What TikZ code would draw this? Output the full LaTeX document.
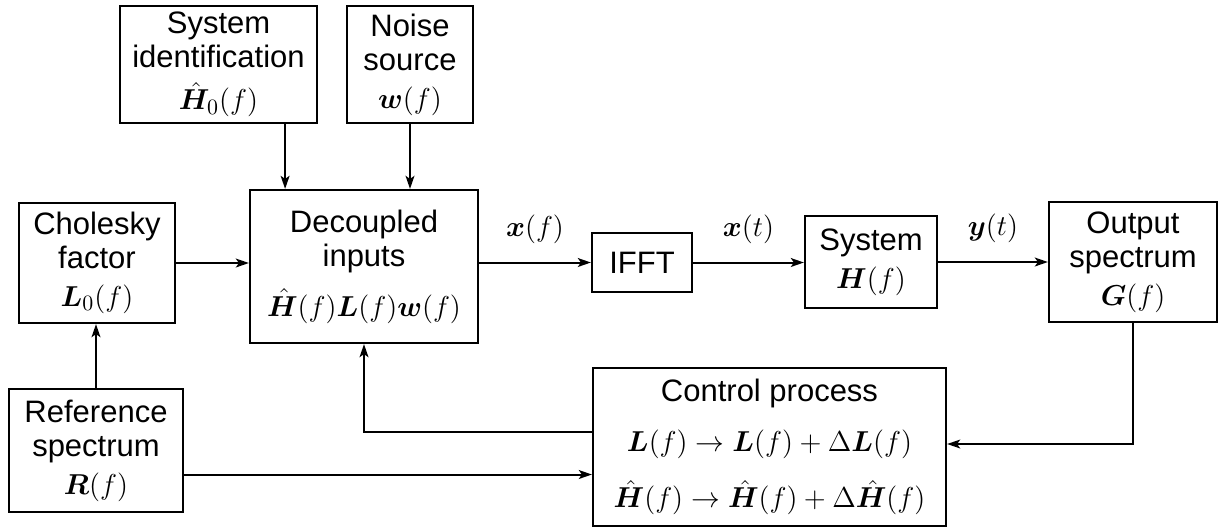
\documentclass[tikz,border=0pt]{standalone}
\usepackage{fontspec}
\setmainfont{Liberation Sans}
\usepackage{amsmath}
\usepackage{bm}
\usetikzlibrary{arrows.meta}

% formulas at the body size
\newcommand{\fml}[1]{{\fontsize{15.3pt}{17pt}\selectfont$#1$}}

\tikzset{
  blk/.style={draw, line width=1.1pt, inner sep=0pt, align=center,
    font=\fontsize{15.5pt}{17pt}\selectfont},
  arr/.style={line width=1pt, -{Stealth[length=6.5pt,width=4.4pt,inset=1.5pt]}},
  lbl/.style={font=\fontsize{15pt}{17pt}\selectfont, above, inner sep=0pt}
}

\begin{document}
\begin{tikzpicture}[x=0.5pt, y=-0.5pt]
  \useasboundingbox (0,0) rectangle (1219,526);

  % blocks
  \node[blk, minimum width=98.5pt, minimum height=58.5pt] (sysid) at (218.5,64.5)
    {System\\identification\\[4pt] \fml{\bm{\hat{H}}_0(f)}};
  \node[blk, minimum width=63pt, minimum height=58.5pt] (noise) at (410,64.5)
    {Noise\\source\\[2pt] \fml{\bm{w}(f)}};
  \node[blk, minimum width=78pt, minimum height=60pt] (chol) at (97,263)
    {Cholesky\\factor\\[2pt] \fml{\bm{L}_0(f)}};
  \node[blk, minimum width=114pt, minimum height=76.5pt] (dec) at (364,266.5)
    {Decoupled\\inputs\\[8pt] \fml{\bm{\hat{H}}(f)\bm{L}(f)\bm{w}(f)}};
  \node[blk, minimum width=50pt, minimum height=29.5pt] (ifft) at (642,262.5) {IFFT};
  \node[blk, minimum width=66pt, minimum height=46pt] (sys) at (871,262)
    {System\\[2pt] \fml{\bm{H}(f)}};
  \node[blk, minimum width=84pt, minimum height=60pt] (out) at (1133,262)
    {Output\\spectrum\\[2pt] \fml{\bm{G}(f)}};
  \node[blk, minimum width=176.5pt, minimum height=79pt] (ctl) at (769.5,447)
    {Control process\\[8pt]
     \fml{\bm{L}(f)\rightarrow\bm{L}(f)+\Delta\bm{L}(f)}\\[10pt]
     \fml{\bm{\hat{H}}(f)\rightarrow\bm{\hat{H}}(f)+\Delta\bm{\hat{H}}(f)}};
  \node[blk, minimum width=87pt, minimum height=61.5pt] (ref) at (96,450.5)
    {Reference\\spectrum\\[2pt] \fml{\bm{R}(f)}};

  % signal flow
  \draw[arr] ([xshift=-16.5pt]sysid.south east) -- ([xshift=-16.5pt]sysid.south east |- dec.north);
  \draw[arr] (noise.south) -- (noise.south |- dec.north);
  \draw[arr] (chol.east) -- (chol.east -| dec.west);
  \draw[arr] (ifft.west -| dec.east) -- node[lbl, yshift=9pt] {\fml{\bm{x}(f)}} (ifft.west);
  \draw[arr] (ifft.east) -- node[lbl, yshift=9pt] {\fml{\bm{x}(t)}} (ifft.east -| sys.west);
  \draw[arr] (sys.east) -- node[lbl, yshift=9pt] {\fml{\bm{y}(t)}} (sys.east -| out.west);

  % feedback paths
  \draw[arr] (out.south) |- ([yshift=1.5pt]ctl.east);
  \draw[arr] ([yshift=7.5pt]ctl.west) -| (dec.south);
  \draw[arr] ([yshift=-12pt]ref.east) -- ([yshift=-12pt]ref.east -| ctl.west);
  \draw[arr] (ref.north) -- (ref.north |- chol.south);
\end{tikzpicture}
\end{document}
